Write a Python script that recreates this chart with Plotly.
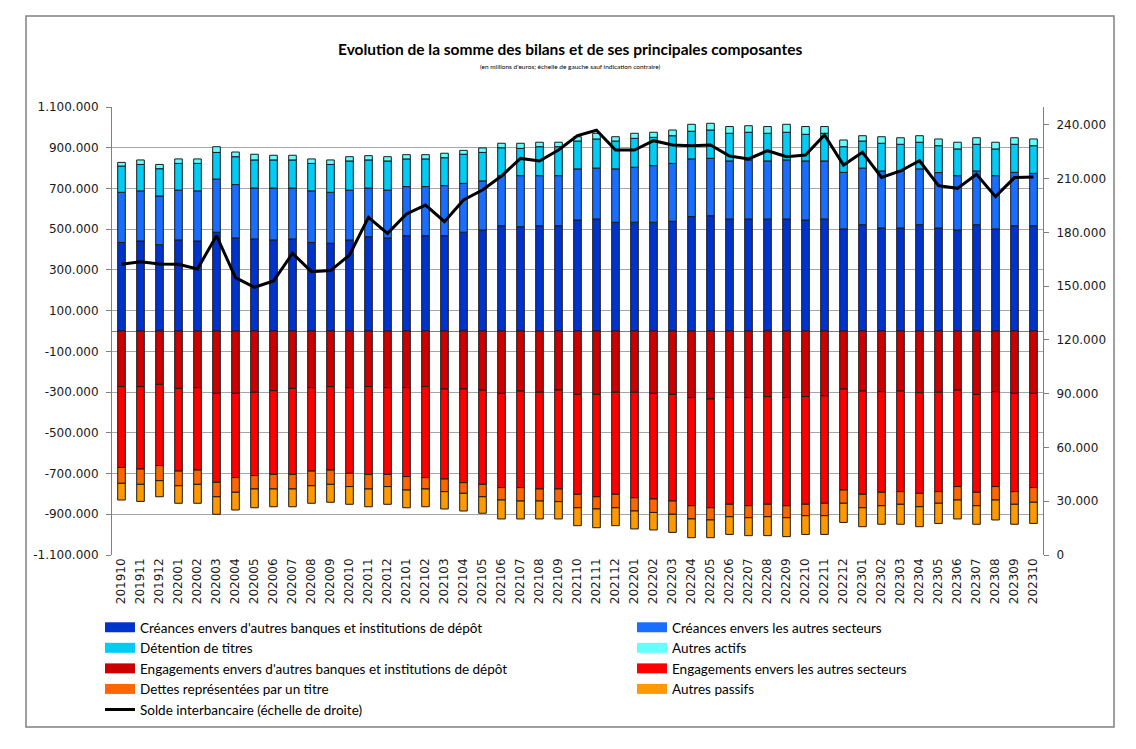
import plotly.graph_objects as go

months = ["201910","201911","201912","202001","202002","202003","202004","202005","202006","202007",
          "202008","202009","202010","202011","202012","202101","202102","202103","202104","202105",
          "202106","202107","202108","202109","202110","202111","202112","202201","202202","202203",
          "202204","202205","202206","202207","202208","202209","202210","202211","202212","202301",
          "202302","202303","202304","202305","202306","202307","202308","202309","202310"]

# values in thousands of millions of euros
creances_banques = [435,442,424,447,442,485,457,452,447,452,435,431,447,463,457,468,468,468,485,496,
                    517,512,517,517,545,550,534,534,534,539,562,566,550,550,550,550,545,550,501,522,
                    506,506,522,506,496,522,501,517,517]
creances_autres = [246,246,239,245,246,261,262,250,255,250,253,250,245,239,235,241,241,246,240,241,
                   246,251,246,246,251,250,262,270,278,284,283,282,285,290,285,290,290,285,278,278,
                   280,280,274,272,267,264,262,262,257]
detention_titres = [129,130,134,131,135,131,137,138,138,138,135,137,143,138,143,136,136,137,143,140,
                    137,134,142,142,137,143,137,142,139,136,136,139,136,136,136,136,131,136,126,133,
                    136,131,131,132,131,131,131,138,136]
autres_actifs = [18,22,21,22,22,28,23,28,23,23,22,22,21,21,21,21,21,22,19,22,
                 22,25,22,22,21,28,21,25,25,28,34,33,33,32,33,39,38,33,33,26,
                 32,32,32,33,33,32,33,32,33]
engag_banques = [273,273,262,282,278,306,306,301,293,282,278,273,278,273,278,278,273,285,285,290,
                 306,295,301,290,311,311,301,301,306,311,327,334,327,327,322,327,322,318,285,295,
                 298,295,303,301,290,311,298,306,306]
engag_autres = [397,405,399,406,405,437,414,409,411,422,410,410,421,431,426,437,447,442,460,463,
                463,474,475,486,491,503,501,518,519,524,531,534,524,531,529,531,529,528,496,507,
                494,494,494,488,474,481,466,483,463]
dettes_titre = [78,75,74,72,70,71,72,66,72,72,72,70,65,72,60,66,56,62,52,61,
                61,66,59,62,66,60,66,65,66,65,65,60,61,59,61,59,56,61,65,66,
                66,62,66,57,66,66,66,62,72]
autres_passifs = [82,84,79,86,93,86,87,92,87,87,86,88,87,87,87,87,87,85,87,81,
                  93,88,88,85,88,92,88,88,86,89,92,87,87,88,93,93,92,92,94,93,
                  91,98,98,99,93,91,98,98,104]
solde_interbancaire = [162.2,163.7,162.4,162.2,159.6,178.2,154.8,149.4,152.9,168.3,158.1,158.7,167.4,188.4,
                       179.5,190.3,195.3,186.0,198.1,203.7,211.5,221.3,219.9,226.0,234.0,237.0,226.0,226.0,
                       231.2,228.8,228.4,228.8,222.6,221.0,225.6,222.3,223.2,234.4,217.6,224.7,210.7,214.3,
                       220.0,206.1,204.6,212.4,200.0,210.6,210.9]

left_ticks = [-1100000,-900000,-700000,-500000,-300000,-100000,100000,300000,500000,700000,900000,1100000]
right_ticks = [0,30000,60000,90000,120000,150000,180000,210000,240000]

def fmt(v):
    return f"{v:,}".replace(",", ".")

# name, values, sign, colour, legend column
series = [
    ("Créances envers d'autres banques et institutions de dépôt", creances_banques, 1, "#0033CC", "legend"),
    ("Créances envers les autres secteurs", creances_autres, 1, "#1A6EFF", "legend2"),
    ("Détention de titres", detention_titres, 1, "#00CCF5", "legend"),
    ("Autres actifs", autres_actifs, 1, "#66FFFF", "legend2"),
    ("Engagements envers d'autres banques et institutions de dépôt", engag_banques, -1, "#CC0000", "legend"),
    ("Engagements envers les autres secteurs", engag_autres, -1, "#FF0000", "legend2"),
    ("Dettes représentées par un titre", dettes_titre, -1, "#FF6600", "legend"),
    ("Autres passifs", autres_passifs, -1, "#FF9900", "legend2"),
]

fig = go.Figure()
for name, vals, sign, col, lg in series:
    fig.add_trace(go.Bar(
        x=months, y=[sign * v * 1000 for v in vals], name=name,
        marker=dict(color=col, line=dict(color="#1a1a1a", width=1)),
        width=0.4, showlegend=False, yaxis="y"))
for k, (name, vals, sign, col, lg) in enumerate(series):
    fig.add_trace(go.Scatter(
        x=[None], y=[None], mode="lines", name=name, legend=lg,
        line=dict(color=col, width=10), legendrank=k + 1, yaxis="y"))

fig.add_trace(go.Scatter(
    x=months, y=[v * 1000 for v in solde_interbancaire], mode="lines",
    name="Solde interbancaire (échelle de droite)", line=dict(color="black", width=3),
    yaxis="y2", legend="legend", legendrank=20))

W, H = 1120, 733
ml, mr, mt, mb = 104, 85, 99, 186
pw, ph = W - ml - mr, H - mt - mb

def px(x):
    return (x - ml) / pw

def py(y):
    return (H - mb - y) / ph

legend_common = dict(orientation="v", xanchor="left", yanchor="top", itemwidth=30,
                     tracegroupgap=0, font=dict(family="Lato", size=13.5, color="#000000"),
                     bgcolor="rgba(0,0,0,0)")

fig.update_layout(
    width=W, height=H,
    margin=dict(l=ml, r=mr, t=mt, b=mb, autoexpand=False),
    paper_bgcolor="white", plot_bgcolor="white",
    barmode="relative",
    font=dict(family="DejaVu Sans", size=12, color="#1a1a1a"),
    xaxis=dict(type="category", tickangle=-90, showgrid=False, showline=False,
               ticks="", tickfont=dict(family="DejaVu Sans", size=12), range=[-0.5, 48.5]),
    yaxis=dict(range=[-1100000, 1100000], tickvals=left_ticks, ticktext=[fmt(v) for v in left_ticks],
               showgrid=True, gridcolor="#A6A6A6", gridwidth=1,
               showline=True, linecolor="#808080", linewidth=1,
               ticks="outside", ticklen=5, tickcolor="#808080", ticklabelstandoff=5,
               zeroline=True, zerolinecolor="#808080", zerolinewidth=1,
               tickfont=dict(family="DejaVu Sans", size=12)),
    yaxis2=dict(range=[0, 250000], overlaying="y", side="right",
                tickvals=right_ticks, ticktext=[fmt(v) for v in right_ticks],
                showgrid=False, showline=True, linecolor="#808080", linewidth=1,
                ticks="outside", ticklen=5, tickcolor="#808080", zeroline=False,
                ticklabelstandoff=5, tickfont=dict(family="DejaVu Sans", size=12)),
    legend=dict(x=px(92), y=py(604), **legend_common),
    legend2=dict(x=px(624), y=py(604), **legend_common),
    showlegend=True,
)

fig.add_annotation(text="<b>Evolution de la somme des bilans et de ses principales composantes</b>",
                   xref="paper", yref="paper", x=px(562), y=py(30), showarrow=False,
                   font=dict(family="Lato", size=15.5, color="#000000"))
fig.add_annotation(text="(en millions d'euros; échelle de gauche sauf indication contraire)",
                   xref="paper", yref="paper", x=px(562), y=py(53), showarrow=False,
                   font=dict(family="Lato", size=6.5, color="#000000"))
fig.add_shape(type="rect", xref="paper", yref="paper",
              x0=px(18), x1=px(1106), y0=py(719), y1=py(8),
              line=dict(color="#808080", width=1.5), fillcolor="rgba(0,0,0,0)", layer="below")

fig.write_html("out.html")
